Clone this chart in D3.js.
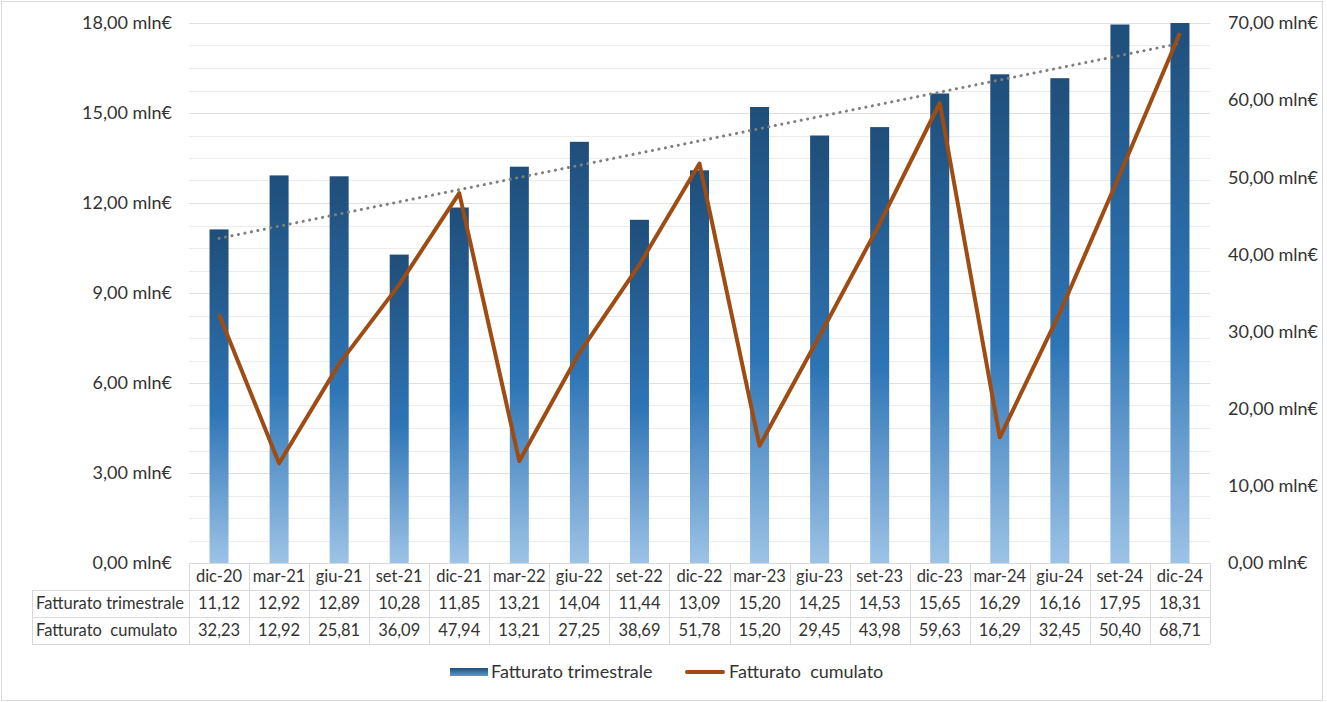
<!DOCTYPE html>
<html>
<head>
<meta charset="utf-8">
<script src="https://cdn.jsdelivr.net/npm/d3@7"></script>
<style>
  body { margin: 0; background: #fff; }
  svg { display: block; font-family: Lato, "Noto Sans", sans-serif; }
</style>
</head>
<body>
<svg id="chart"></svg>
<script>
const width = 1327
const height = 702

const categories = ['dic-20', 'mar-21', 'giu-21', 'set-21', 'dic-21', 'mar-22', 'giu-22', 'set-22', 'dic-22',
  'mar-23', 'giu-23', 'set-23', 'dic-23', 'mar-24', 'giu-24', 'set-24', 'dic-24']
const trimestrale = [11.12, 12.92, 12.89, 10.28, 11.85, 13.21, 14.04, 11.44, 13.09, 15.20, 14.25, 14.53, 15.65, 16.29, 16.16, 17.95, 18.31]
const cumulato = [32.23, 12.92, 25.81, 36.09, 47.94, 13.21, 27.25, 38.69, 51.78, 15.20, 29.45, 43.98, 59.63, 16.29, 32.45, 50.40, 68.71]
const leftTicks = [0, 3, 6, 9, 12, 15, 18]
const rightTicks = [0, 10, 20, 30, 40, 50, 60, 70]
const seriesNames = ['Fatturato trimestrale', 'Fatturato  cumulato']

const plot = { left: 189, right: 1210, top: 23, bottom: 563 }
const tableLeft = 32
const rowH = 27
const textColor = '#333'

const fmt = v => d3.format('.2f')(v).replace('.', ',')

const svg = d3.select('#chart').attr('width', width).attr('height', height)

// outer frame
svg.append('rect')
  .attr('x', 1.5).attr('y', 1.5).attr('width', width - 6).attr('height', height - 3)
  .attr('fill', '#fff').attr('stroke', '#d9d9d9')

const x = d3.scaleBand().domain(categories).range([plot.left, plot.right])
const yL = d3.scaleLinear().domain([0, 18]).range([plot.bottom, plot.top])
const yR = d3.scaleLinear().domain([0, 70]).range([plot.bottom, plot.top])

const defs = svg.append('defs')
defs.append('clipPath').attr('id', 'plotClip')
  .append('rect').attr('x', plot.left).attr('y', plot.top)
  .attr('width', plot.right - plot.left).attr('height', plot.bottom - plot.top)

// gradient for the bars
const grad = defs.append('linearGradient').attr('id', 'barGrad')
  .attr('x1', 0).attr('y1', 0).attr('x2', 0).attr('y2', 1)
grad.append('stop').attr('offset', '0%').attr('stop-color', '#1f4e79')
grad.append('stop').attr('offset', '55%').attr('stop-color', '#2e75b6')
grad.append('stop').attr('offset', '100%').attr('stop-color', '#9dc3e6')

// gridlines (major + minor every 0.75)
svg.append('g')
  .selectAll('line')
  .data(d3.range(0, 18.01, 0.75))
  .enter().append('line')
  .attr('x1', plot.left).attr('x2', plot.right)
  .attr('y1', d => Math.round(yL(d)) + 0.5).attr('y2', d => Math.round(yL(d)) + 0.5)
  .attr('stroke', d => d % 3 === 0 ? '#e0e0e0' : '#ececec')

// left axis labels
svg.append('g')
  .selectAll('text')
  .data(leftTicks)
  .enter().append('text')
  .attr('x', 172).attr('y', d => yL(d))
  .attr('dy', '0.35em').attr('text-anchor', 'end')
  .attr('font-size', 18).attr('fill', textColor)
  .text(d => fmt(d) + ' mln€')

// right axis labels
svg.append('g')
  .selectAll('text')
  .data(rightTicks)
  .enter().append('text')
  .attr('x', 1228).attr('y', d => yR(d))
  .attr('dy', '0.35em').attr('text-anchor', 'start')
  .attr('font-size', 18).attr('fill', textColor)
  .text(d => fmt(d) + ' mln€')

// bars (clipped at the axis max, like the original)
const barW = 19
svg.append('g')
  .attr('clip-path', 'url(#plotClip)')
  .selectAll('rect')
  .data(trimestrale)
  .enter().append('rect')
  .attr('x', (d, i) => x(categories[i]) + x.bandwidth() / 2 - barW / 2)
  .attr('y', d => yL(d))
  .attr('width', barW)
  .attr('height', d => plot.bottom - yL(d))
  .attr('fill', 'url(#barGrad)')

// linear trend line of the quarterly series
const xs = trimestrale.map((d, i) => i + 1)
const mx = d3.mean(xs)
const my = d3.mean(trimestrale)
const slope = d3.sum(xs, (xi, i) => (xi - mx) * (trimestrale[i] - my)) / d3.sum(xs, xi => (xi - mx) * (xi - mx))
const icpt = my - slope * mx
const cx = c => x(c) + x.bandwidth() / 2
svg.append('line')
  .attr('x1', cx(categories[0])).attr('y1', yL(icpt + slope * 1))
  .attr('x2', cx(categories[categories.length - 1])).attr('y2', yL(icpt + slope * categories.length))
  .attr('stroke', '#7f7f7f').attr('stroke-width', 3)
  .attr('stroke-dasharray', '0.1 6.5').attr('stroke-linecap', 'round')

// cumulative line
const line = d3.line()
  .x((d, i) => cx(categories[i]))
  .y(d => yR(d))
svg.append('path')
  .datum(cumulato)
  .attr('d', line)
  .attr('fill', 'none')
  .attr('stroke', '#9e4c12')
  .attr('stroke-width', 4)
  .attr('stroke-linejoin', 'round')

// data table
const table = svg.append('g').attr('stroke', '#d9d9d9').attr('fill', 'none')
const tTop = plot.bottom
table.append('line').attr('x1', plot.left).attr('x2', plot.right)
  .attr('y1', tTop + 0.5).attr('y2', tTop + 0.5)
;[1, 2, 3].forEach(r => {
  table.append('line').attr('x1', tableLeft).attr('x2', plot.right)
    .attr('y1', tTop + r * rowH + 0.5).attr('y2', tTop + r * rowH + 0.5)
})
table.append('line').attr('x1', tableLeft + 0.5).attr('x2', tableLeft + 0.5)
  .attr('y1', tTop + rowH).attr('y2', tTop + 3 * rowH)
categories.concat(['end']).forEach((c, i) => {
  const xx = Math.round(plot.left + i * x.bandwidth()) + 0.5
  table.append('line').attr('x1', xx).attr('x2', xx)
    .attr('y1', tTop).attr('y2', tTop + 3 * rowH)
})

const tText = svg.append('g').attr('font-size', 16.5).attr('fill', textColor)
tText.selectAll('.cat')
  .data(categories)
  .enter().append('text')
  .attr('x', d => cx(d)).attr('y', tTop + rowH / 2)
  .attr('dy', '0.35em').attr('text-anchor', 'middle')
  .text(d => d)
;[trimestrale, cumulato].forEach((series, r) => {
  tText.append('text')
    .attr('x', tableLeft + 4).attr('y', tTop + (r + 1.5) * rowH)
    .attr('dy', '0.35em')
    .attr('xml:space', 'preserve')
    .text(seriesNames[r])
  tText.selectAll('.v' + r)
    .data(series)
    .enter().append('text')
    .attr('x', (d, i) => cx(categories[i])).attr('y', tTop + (r + 1.5) * rowH)
    .attr('dy', '0.35em').attr('text-anchor', 'middle')
    .text(d => fmt(d))
})

// legend
const legend = svg.append('g').attr('font-size', 18).attr('fill', textColor)
const legY = 672
const lg = defs.append('linearGradient').attr('id', 'legGrad')
  .attr('x1', 0).attr('y1', 0).attr('x2', 0).attr('y2', 1)
lg.append('stop').attr('offset', '0%').attr('stop-color', '#1f4e79')
lg.append('stop').attr('offset', '100%').attr('stop-color', '#5b9bd5')
legend.append('rect').attr('x', 450).attr('y', legY - 4).attr('width', 38).attr('height', 8)
  .attr('fill', 'url(#legGrad)')
legend.append('text').attr('x', 491).attr('y', legY).attr('dy', '0.35em').text(seriesNames[0])
legend.append('line').attr('x1', 687).attr('x2', 723).attr('y1', legY).attr('y2', legY)
  .attr('stroke', '#9e4c12').attr('stroke-width', 4).attr('stroke-linecap', 'round')
legend.append('text').attr('x', 729).attr('y', legY).attr('dy', '0.35em')
  .attr('xml:space', 'preserve').text(seriesNames[1])
</script>
</body>
</html>
